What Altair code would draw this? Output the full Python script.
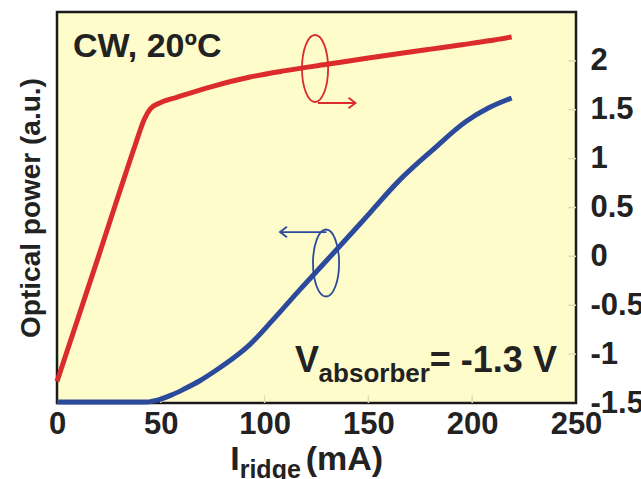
import altair as alt
import pandas as pd

# ---- data ----
current_red = [0, 10, 20, 30, 38, 42, 45, 50, 58, 75, 93, 110, 130, 150, 165, 180, 195, 208, 219]
power_red = [-1.28, -0.64, 0.0, 0.65, 1.16, 1.40, 1.51, 1.575, 1.63, 1.74, 1.835, 1.90, 1.965, 2.03, 2.075, 2.12, 2.165, 2.205, 2.245]

current_blue = [0, 20, 43, 50, 55, 61, 69, 77, 85, 93, 104, 117, 130, 148, 165, 181, 197, 208, 219]
power_blue = [-1.49, -1.49, -1.49, -1.46, -1.42, -1.36, -1.27, -1.16, -1.04, -0.90, -0.65, -0.34, -0.04, 0.38, 0.78, 1.09, 1.38, 1.52, 1.62]

x_ticks = [0, 50, 100, 150, 200, 250]
y_ticks = [-1.5, -1, -0.5, 0, 0.5, 1, 1.5, 2]

XDOM = [0, 250]
YDOM = [-1.5, 2.5]
FONT = "Liberation Sans"
RED = "#DC2B2B"
BLUE = "#2B4A9C"
TXT = "#222222"

red_df = pd.DataFrame({"I": current_red, "P": power_red})
blue_df = pd.DataFrame({"I": current_blue, "P": power_blue})

xs = alt.Scale(domain=XDOM, nice=False, zero=False)
ys = alt.Scale(domain=YDOM, nice=False, zero=False)

x_axis = alt.Axis(values=x_ticks, ticks=False, domain=False, grid=False,
                  labelFont=FONT, labelFontSize=31, labelFontWeight="bold",
                  labelColor=TXT, labelPadding=6, title=None, labelFlush=False,
                  labelOverlap=False, labelBound=False)


def X(field="I", **kw):
    return alt.X(field, type="quantitative", scale=xs, axis=x_axis, **kw)


def Y(field="P", **kw):
    return alt.Y(field, type="quantitative", scale=ys, axis=None, **kw)


blue = alt.Chart(blue_df).mark_line(color=BLUE, strokeWidth=5, interpolate="monotone").encode(
    x=X(),
    y=alt.Y("P:Q", scale=ys, axis=alt.Axis(orient="left", labels=False, ticks=False, domain=False,
                                           grid=False, title="Optical power (a.u.)",
                                           titleFont=FONT, titleFontSize=28, titleFontWeight="bold",
                                           titleColor=TXT, titlePadding=12)),
)

red = alt.Chart(red_df).mark_line(color=RED, strokeWidth=5, interpolate="monotone").encode(
    x=X(),
    y=alt.Y("P:Q", scale=ys, axis=alt.Axis(orient="right", values=y_ticks, ticks=False, domain=False,
                                           grid=False, labelFont=FONT, labelFontSize=31,
                                           labelFontWeight="bold", labelColor=TXT, labelPadding=14,
                                           labelExpr="'' + datum.value", labelOverlap=False,
                                           labelBound=False, title=None)),
)

# faint inner ticks
tick_x_df = pd.DataFrame({"I": x_ticks[1:-1], "P": [YDOM[0]] * 4, "P2": [YDOM[0] + 0.08] * 4})
tick_x = alt.Chart(tick_x_df).mark_rule(color="#E2DDB4", strokeWidth=1.5).encode(
    x=X(), y=Y(), y2="P2")
tick_y_df = pd.DataFrame({"P": y_ticks[1:], "I": [XDOM[1]] * 7, "I2": [XDOM[1] - 4] * 7})
tick_y = alt.Chart(tick_y_df).mark_rule(color="#E2DDB4", strokeWidth=1.5).encode(
    y=Y(), x=X(), x2="I2")

# ellipse + arrow annotations
ELL = "M0,-1A0.39,1 0 1 1 0,1A0.39,1 0 1 1 0,-1Z"
ell_df = pd.DataFrame({"I": [124.3, 129.6], "P": [1.922, -0.068], "c": ["r", "b"]})
ellipses = alt.Chart(ell_df).mark_point(shape=ELL, size=4489, filled=False, strokeWidth=1.8, opacity=1).encode(
    x=X(), y=Y(),
    color=alt.Color("c:N", scale=alt.Scale(domain=["r", "b"], range=[RED, BLUE]), legend=None))

arr_df = pd.DataFrame({"I": [125.7, 129.8], "I2": [143.8, 107.4], "P": [1.569, 0.249], "c": ["r", "b"]})
arrows = alt.Chart(arr_df).mark_rule(strokeWidth=1.8).encode(
    x=X(), x2="I2", y=Y(),
    color=alt.Color("c:N", scale=alt.Scale(domain=["r", "b"], range=[RED, BLUE]), legend=None))

head_r = alt.Chart(pd.DataFrame({"I": [143.8], "P": [1.569]})).mark_point(
    shape="M-1,-0.75L0,0L-1,0.75", size=196, filled=False, strokeWidth=1.8, color=RED, opacity=1).encode(
    x=X(), y=Y())
head_b = alt.Chart(pd.DataFrame({"I": [107.4], "P": [0.249]})).mark_point(
    shape="M1,-0.75L0,0L1,0.75", size=196, filled=False, strokeWidth=1.8, color=BLUE, opacity=1).encode(
    x=X(), y=Y())


def label(text, i, p, size, align="left", baseline="alphabetic"):
    return alt.Chart(pd.DataFrame({"I": [i], "P": [p], "t": [text]})).mark_text(
        font=FONT, fontSize=size, fontWeight="bold", color=TXT, align=align, baseline=baseline
    ).encode(x=X(), y=Y(), text="t:N")


texts = [
    label("CW, 20ºC", 7.7, 2.04, 34),
    label("V", 114.7, -1.183, 36),
    label("absorber", 126.0, -1.285, 26),
    label("= -1.3 V", 240.8, -1.183, 36, align="right"),
    label("I", 83.4, -2.19, 34),
    label("ridge", 88.0, -2.265, 25),
    label("(mA)", 119.8, -2.19, 34),
]

chart = alt.layer(tick_x, tick_y, blue, red, ellipses, arrows, head_r, head_b, *texts).resolve_scale(
    y="independent"
).properties(
    width=519, height=391,
    autosize=alt.AutoSizeParams(type="none"),
    padding={"left": 57, "top": 12, "right": 65, "bottom": 76},
    background="white",
).configure_view(fill="#FFFCCB", stroke="#1a1a1a", strokeWidth=2.5)

chart.save("out.html", embed_options={"renderer": "svg", "actions": False})
